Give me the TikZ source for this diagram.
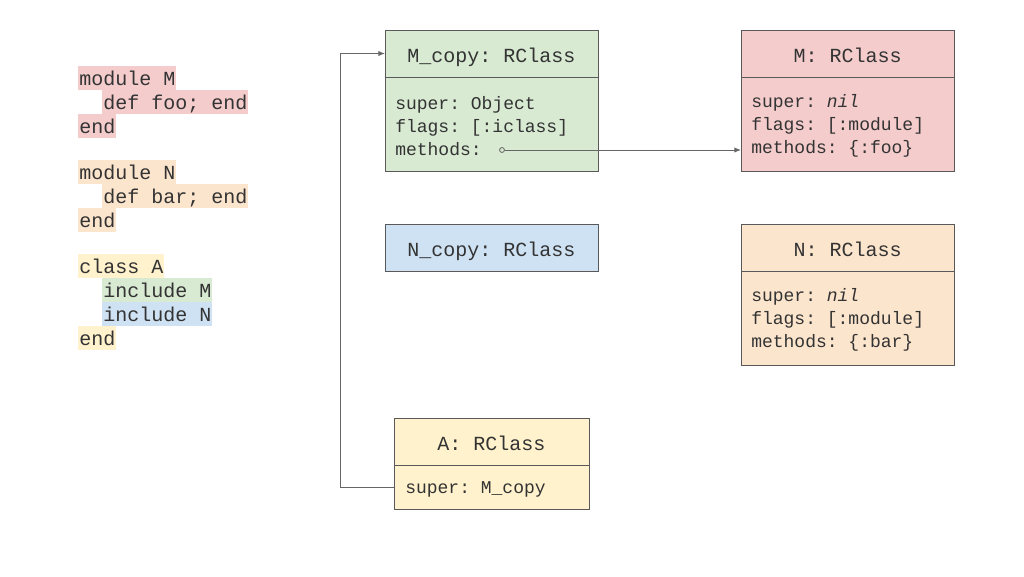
\documentclass[tikz,border=0pt]{standalone}
\usepackage{fontspec}
\setmainfont{Liberation Mono}
\usetikzlibrary{positioning,arrows.meta}
\definecolor{redbg}{HTML}{F4CCCC}
\definecolor{orangebg}{HTML}{FCE5CD}
\definecolor{yellowbg}{HTML}{FFF2CC}
\definecolor{greenbg}{HTML}{D9EAD3}
\definecolor{bluebg}{HTML}{CFE2F3}
\definecolor{boxline}{HTML}{595959}
\definecolor{wire}{HTML}{666666}
\definecolor{txt}{HTML}{333333}
\tikzset{
  code/.style={anchor=west,inner xsep=0.75pt,inner ysep=0pt,minimum height=18pt,
    text height=12.5pt,text depth=2pt,text=txt,font=\fontsize{15}{18}\selectfont\frenchspacing},
  head/.style={draw=boxline,line width=0.75pt,outer sep=0pt,minimum height=35.25pt,
    text height=13pt,text depth=0pt,text=txt,font=\fontsize{15}{18}\selectfont\frenchspacing},
  body/.style={draw=boxline,line width=0.75pt,outer sep=0pt},
  fields/.style={anchor=west,align=left,inner sep=0pt,text=txt,
    font=\fontsize{13.5}{17.25}\selectfont\frenchspacing},
  ptr/.style={draw=wire,line width=0.75pt,-{Latex[length=5pt,width=4pt]}}
}
\begin{document}
\begin{tikzpicture}[x=0.75pt,y=-0.75pt]
  \useasboundingbox (0,0) rectangle (1024,576);
  % ruby source
  \node[code,fill=redbg] (cm1) at (78,78) {module M};
  \node[code,fill=redbg] (cm2) at (102,102) {def foo; end};
  \node[code,fill=redbg] (cm3) at (78,126) {end};
  \node[code,fill=orangebg] (cn1) at (78,172) {module N};
  \node[code,fill=orangebg] (cn2) at (102,196) {def bar; end};
  \node[code,fill=orangebg] (cn3) at (78,220) {end};
  \node[code,fill=yellowbg] (ca1) at (78,266) {class A};
  \node[code,fill=greenbg] (ca2) at (102,290) {include M};
  \node[code,fill=bluebg] (ca3) at (102,314) {include N};
  \node[code,fill=yellowbg] (ca4) at (78,338) {end};

  % M_copy
  \node[head,fill=greenbg,minimum width=159.75pt,anchor=north west] (mcopy) at (385,30) {M\_copy: RClass};
  \node[body,fill=greenbg,below=0pt of mcopy,minimum width=159.75pt,minimum height=70.5pt] (mcopyb) {};
  \node[fields] (mcopyf) at ([shift={(10,2)}]mcopyb.west) {super: Object\\flags: [:iclass]\\methods:};
  % M
  \node[head,fill=redbg,minimum width=159.75pt,anchor=north west] (m) at (741,30) {M: RClass};
  \node[body,fill=redbg,below=0pt of m,minimum width=159.75pt,minimum height=70.5pt] (mb) {};
  \node[fields] (mf) at ([shift={(10,2)}]mb.west) {super: \textit{nil}\\flags: [:module]\\methods: \{:foo\}};
  % N_copy
  \node[head,fill=bluebg,minimum width=159.75pt,anchor=north west] (ncopy) at (385,224) {N\_copy: RClass};
  % N
  \node[head,fill=orangebg,minimum width=159.75pt,anchor=north west] (n) at (741,224) {N: RClass};
  \node[body,fill=orangebg,below=0pt of n,minimum width=159.75pt,minimum height=70.5pt] (nb) {};
  \node[fields] (nf) at ([shift={(10,2)}]nb.west) {super: \textit{nil}\\flags: [:module]\\methods: \{:bar\}};
  % A
  \node[head,fill=yellowbg,minimum width=146.25pt,anchor=north west] (a) at (394,418) {A: RClass};
  \node[body,fill=yellowbg,below=0pt of a,minimum width=146.25pt,minimum height=33pt] (ab) {};
  \node[fields] (af) at ([shift={(11,2)}]ab.west) {super: M\_copy};

  % pointers
  \node[circle,draw=wire,fill=greenbg,line width=0.6pt,inner sep=1.3pt] (mdot) at (502,150) {};
  \draw[ptr] (mdot) -- (mdot -| mb.west);
  \draw[ptr] (ab.west) -- ++(-54,0) |- (mcopy.west);
\end{tikzpicture}
\end{document}
